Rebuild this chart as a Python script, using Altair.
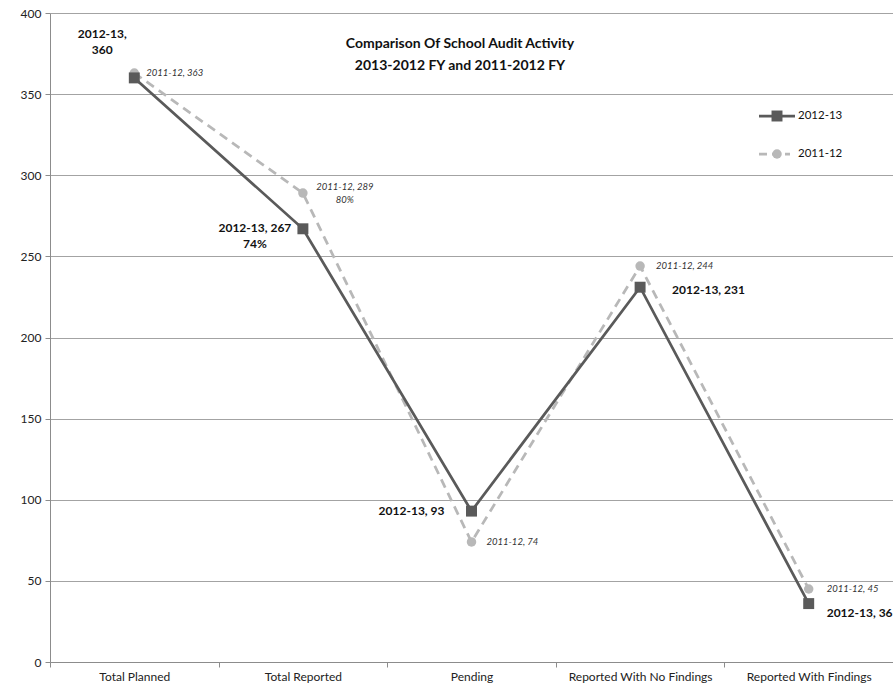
import altair as alt
import pandas as pd

categories = [
    "Total Planned",
    "Total Reported",
    "Pending",
    "Reported With No Findings",
    "Reported With Findings",
]
series_names = ["2012-13", "2011-12"]
values_2012_13 = [360, 267, 93, 231, 36]
values_2011_12 = [363, 289, 74, 244, 45]

colors = {"2012-13": "#5a5a5a", "2011-12": "#b8b8b8"}
FONT = "Lato"

rows = []
for s, vals in zip(series_names, [values_2012_13, values_2011_12]):
    planned = vals[0]
    for c, v in zip(categories, vals):
        if c == "Total Planned" and s == "2012-13":
            txt = f"{s},\n{v}"
        elif c == "Total Reported":
            txt = f"{s}, {v}\n{round(v / planned * 100)}%"
        else:
            txt = f"{s}, {v}"
        rows.append({"category": c, "series": s, "value": v, "label": txt})
df = pd.DataFrame(rows)

W, H = 843, 649

x_enc = alt.X(
    "category:N",
    sort=categories,
    bandPosition=0.5,
    scale=alt.Scale(type="band", domain=categories, paddingInner=0, paddingOuter=0),
    axis=alt.Axis(
        title=None, labelAngle=0, tickBand="extent", grid=False,
        labelFont=FONT, labelFontSize=12, labelColor="#222222",
        tickSize=5, labelPadding=4, domainColor="#8c8c8c", tickColor="#8c8c8c",
    ),
)
y_enc = alt.Y(
    "value:Q",
    scale=alt.Scale(domain=[0, 400], nice=False),
    axis=alt.Axis(
        title=None, values=list(range(0, 401, 50)), grid=True, gridColor="#a3a3a3",
        labelFont=FONT, labelFontSize=12, labelColor="#222222",
        tickSize=5, labelPadding=4, domainColor="#8c8c8c", tickColor="#8c8c8c",
    ),
)

base = alt.Chart(df).encode(x=x_enc, y=y_enc)

line_new = base.transform_filter(alt.datum.series == "2012-13").mark_line(
    color=colors["2012-13"], strokeWidth=2.75
)
line_old = base.transform_filter(alt.datum.series == "2011-12").mark_line(
    color=colors["2011-12"], strokeWidth=2.75, strokeDash=[9, 6]
)
pts_new = base.transform_filter(alt.datum.series == "2012-13").mark_point(
    shape="square", filled=True, size=120, opacity=1, color=colors["2012-13"]
)
pts_old = base.transform_filter(alt.datum.series == "2011-12").mark_point(
    shape="circle", filled=True, size=90, opacity=1, color=colors["2011-12"]
)

# per-label placement: (dx, dy of first line, align)
placement = {
    ("2012-13", "Total Planned"): (-32, -44, "center"),
    ("2012-13", "Total Reported"): (-48, -1, "center"),
    ("2012-13", "Pending"): (-27, 0, "right"),
    ("2012-13", "Reported With No Findings"): (32, 3, "left"),
    ("2012-13", "Reported With Findings"): (18, 9, "left"),
    ("2011-12", "Total Planned"): (12, 0, "left"),
    ("2011-12", "Total Reported"): (42, -6, "center"),
    ("2011-12", "Pending"): (15, 0, "left"),
    ("2011-12", "Reported With No Findings"): (16, 0, "left"),
    ("2011-12", "Reported With Findings"): (18, 0, "left"),
}

labels = []
for (s, c), (dx, dy, al) in placement.items():
    if s == "2012-13":
        mk = dict(fontSize=12, fontWeight="bold", color="#111111", lineHeight=16)
    else:
        mk = dict(fontSize=9.5, fontStyle="italic", color="#333333", lineHeight=13)
    labels.append(
        base.transform_filter((alt.datum.series == s) & (alt.datum.category == c))
        .mark_text(font=FONT, dx=dx, dy=dy, align=al, baseline="middle", lineBreak="\n", **mk)
        .encode(text="label:N")
    )

title = alt.Chart(pd.DataFrame({"t": [0]})).mark_text(
    text=["Comparison Of School Audit Activity", "2013-2012 FY and 2011-2012 FY"],
    font=FONT, fontSize=14, fontWeight="bold", color="#111111",
    align="center", baseline="middle", lineHeight=22,
).encode(x=alt.value(410), y=alt.value(31))

# legend
legend_layers = []
for i, s in enumerate(series_names):
    ly = 103 + i * 38
    ldf = pd.DataFrame({"series": [s]})
    dash = {} if s == "2012-13" else {"strokeDash": [8, 5]}
    legend_layers.append(
        alt.Chart(ldf).mark_rule(color=colors[s], strokeWidth=2.75, **dash)
        .encode(x=alt.value(709), x2=alt.value(745 if i == 0 else 740), y=alt.value(ly))
    )
    legend_layers.append(
        alt.Chart(ldf).mark_point(
            shape="square" if i == 0 else "circle", filled=True, opacity=1,
            size=120 if i == 0 else 90, color=colors[s],
        ).encode(x=alt.value(727), y=alt.value(ly))
    )
    legend_layers.append(
        alt.Chart(ldf).mark_text(
            font=FONT, fontSize=11.5, color="#111111", align="left", baseline="middle"
        ).encode(x=alt.value(748), y=alt.value(ly), text="series:N")
    )

chart = (
    alt.layer(line_old, line_new, pts_old, pts_new, *labels, title, *legend_layers)
    .properties(
        width=W, height=H,
        autosize=alt.AutoSizeParams(type="none"),
        padding={"left": 50, "top": 13, "right": 0, "bottom": 24},
        background="white",
    )
    .configure_view(strokeWidth=0)
)

chart.save("out.html", embed_options={"renderer": "svg", "actions": False})
